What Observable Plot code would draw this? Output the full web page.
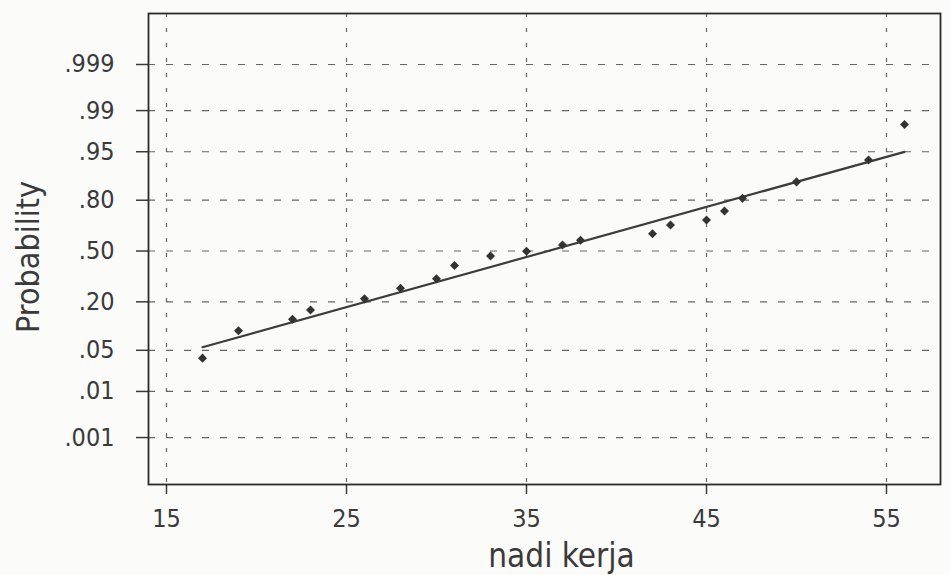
<!DOCTYPE html>
<html>
<head>
<meta charset="utf-8">
<script src="https://cdn.jsdelivr.net/npm/d3@7"></script>
<script src="https://cdn.jsdelivr.net/npm/@observablehq/plot@0.6"></script>
<style>
  html, body { margin: 0; padding: 0; background: #fbfbfa; }
  #chart svg { display: block; }
</style>
</head>
<body>
<div id="chart"></div>
<script>
// ---- data ----
const nadiKerja = [17, 19, 22, 23, 26, 28, 30, 31, 33, 35, 37, 38, 42, 43, 45, 46, 47, 50, 54, 56];
const probability = [0.038, 0.093, 0.129, 0.164, 0.214, 0.269, 0.323, 0.405, 0.467, 0.498,
                     0.540, 0.571, 0.613, 0.667, 0.697, 0.746, 0.809, 0.874, 0.934, 0.982];
const xTicks = [15, 25, 35, 45, 55];
const yTickValues = [0.001, 0.01, 0.05, 0.20, 0.50, 0.80, 0.95, 0.99, 0.999];
const yTickLabels = [".001", ".01", ".05", ".20", ".50", ".80", ".95", ".99", ".999"];
const fitMean = 36.2;
const fitSd = 12.05;

// inverse standard normal CDF (Acklam)
function probit(p) {
  const a = [-3.969683028665376e+01, 2.209460984245205e+02, -2.759285104469687e+02, 1.383577518672690e+02, -3.066479806614716e+01, 2.506628277459239e+00];
  const b = [-5.447609879822406e+01, 1.615858368580409e+02, -1.556989798598866e+02, 6.680131188771972e+01, -1.328068155288572e+01];
  const c = [-7.784894002430293e-03, -3.223964580411365e-01, -2.400758277161838e+00, -2.549732539343734e+00, 4.374664141464968e+00, 2.938163982698783e+00];
  const d = [7.784695709041462e-03, 3.224671290700398e-01, 2.445134137142996e+00, 3.754408661907416e+00];
  const plow = 0.02425;
  let q, r;
  if (p < plow) {
    q = Math.sqrt(-2 * Math.log(p));
    return (((((c[0]*q+c[1])*q+c[2])*q+c[3])*q+c[4])*q+c[5]) / ((((d[0]*q+d[1])*q+d[2])*q+d[3])*q+1);
  } else if (p > 1 - plow) {
    q = Math.sqrt(-2 * Math.log(1 - p));
    return -(((((c[0]*q+c[1])*q+c[2])*q+c[3])*q+c[4])*q+c[5]) / ((((d[0]*q+d[1])*q+d[2])*q+d[3])*q+1);
  }
  q = p - 0.5; r = q * q;
  return (((((a[0]*r+a[1])*r+a[2])*r+a[3])*r+a[4])*r+a[5])*q / (((((b[0]*r+b[1])*r+b[2])*r+b[3])*r+b[4])*r+1);
}

const points = nadiKerja.map((x, i) => ({x, z: probit(probability[i])}));
const xExtent = d3.extent(nadiKerja);
const fitLine = xExtent.map(x => ({x, z: (x - fitMean) / fitSd}));
const yTicksZ = yTickValues.map(probit);
const labelOf = new Map(yTicksZ.map((z, i) => [z, yTickLabels[i]]));

const font = '"Liberation Sans Narrow", "Arial Narrow", "DejaVu Sans Condensed", sans-serif';
const ink = "#3a3a3a";

const chart = Plot.plot({
  width: 950,
  height: 575,
  marginLeft: 148,
  marginRight: 10,
  marginTop: 13,
  marginBottom: 91,
  style: {fontFamily: font, color: ink, background: "transparent"},
  x: {domain: [14.0, 58.0]},
  y: {domain: [-3.868, 3.935]},
  marks: [
    Plot.gridX(xTicks, {stroke: "#555", strokeOpacity: 0.9, strokeWidth: 1.2, strokeDasharray: "4,11"}),
    Plot.gridY(yTicksZ, {stroke: "#555", strokeOpacity: 0.9, strokeWidth: 1.2, strokeDasharray: "7,11"}),
    Plot.axisX(xTicks, {tickSize: 10, tickPadding: 15, fontSize: 25, label: null, stroke: ink, strokeWidth: 1.5, fill: ink}),
    Plot.axisY(yTicksZ, {tickSize: 12, tickPadding: 22, fontSize: 25, label: null, tickFormat: z => labelOf.get(z), stroke: ink, strokeWidth: 1.5, fill: ink}),
    Plot.frame({stroke: "#2a2a2a", strokeWidth: 1.8}),
    Plot.line(fitLine, {x: "x", y: "z", stroke: "#3c3c3c", strokeWidth: 2.2}),
    Plot.dot(points, {x: "x", y: "z", symbol: "square", rotate: 45, r: 3.6, fill: "#333", stroke: "none"}),
    Plot.text(["nadi kerja"], {frameAnchor: "bottom", textAnchor: "middle", dx: 17, dy: 82, fontSize: 33, fill: ink, lineAnchor: "bottom"}),
    Plot.text(["Probability"], {frameAnchor: "left", textAnchor: "middle", rotate: -90, dx: -120, dy: 8, fontSize: 32, fill: ink, lineAnchor: "middle"})
  ]
});
document.getElementById("chart").appendChild(chart);
</script>
</body>
</html>
